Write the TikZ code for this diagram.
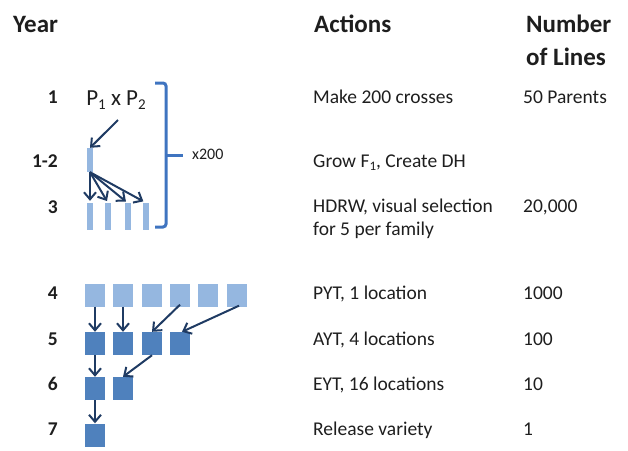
\documentclass[tikz,border=0pt]{standalone}
\usepackage{fontspec}
\setmainfont{Carlito}
\usetikzlibrary{arrows.meta}
\definecolor{lightb}{HTML}{95B7E0}
\definecolor{darkb}{HTML}{4F81BD}
\definecolor{arr}{HTML}{1F3B63}
\definecolor{bracec}{HTML}{3F74C0}
\definecolor{txt}{HTML}{1E1E1E}
\begin{document}
\begin{tikzpicture}[x=1pt,y=-1pt,
 sq/.style={draw=none, minimum width=20pt, minimum height=23pt, inner sep=0pt},
 lsq/.style={sq, fill=lightb},
 dsq/.style={sq, fill=darkb},
 bar/.style={fill=lightb, minimum width=6pt, inner sep=0pt},
 arw/.style={draw=arr, line width=2pt, -{Straight Barb[length=7pt,width=12pt,line width=2pt]}},
 hdr/.style={font=\fontsize{25}{33}\selectfont\bfseries, anchor=base west, inner sep=0pt, text=txt},
 body/.style={font=\fontsize{19.5}{23}\selectfont, anchor=base west, inner sep=0pt, text=txt},
 yr/.style={font=\fontsize{19.5}{23}\selectfont\bfseries, anchor=base east, inner sep=0pt, text=txt},
]
\useasboundingbox (0,0) rectangle (628,450);
% headers
\node[hdr] (hy) at (13,32) {Year};
\node[hdr] (ha) at (314,32) {Actions};
\node[hdr] (hn) at (526,32) {Number};
\node[hdr] (hl) at (526,65) {of Lines};
% years
\node[yr] (y1) at (58,103) {1};
\node[yr] (y12) at (58,167) {1-2};
\node[yr] (y3) at (58,213) {3};
\node[yr] (y4) at (58,299) {4};
\node[yr] (y5) at (58,345) {5};
\node[yr] (y6) at (58,390) {6};
\node[yr] (y7) at (58,435) {7};
% actions
\node[body] (a1) at (313,103) {Make 200 crosses};
\node[body] (a12) at (313,167) {Grow F\raisebox{-3pt}{\fontsize{13}{13}\selectfont 1}, Create DH};
\node[body] (a3) at (313,212) {HDRW, visual selection};
\node[body] (a3b) at (313,235) {for 5 per family};
\node[body] (a4) at (313,299) {PYT, 1 location};
\node[body] (a5) at (313,345) {AYT, 4 locations};
\node[body] (a6) at (313,390) {EYT, 16 locations};
\node[body] (a7) at (313,435) {Release variety};
% numbers
\node[body] (n1) at (523,103) {50 Parents};
\node[body] (n3) at (523,212) {20,000};
\node[body] (n4) at (523,299) {1000};
\node[body] (n5) at (523,345) {100};
\node[body] (n6) at (523,390) {10};
\node[body] (n7) at (523,435) {1};
% crosses
\node[font=\fontsize{23}{26}\selectfont, text=txt, inner sep=0pt] (p) at (116,100)
 {P\raisebox{-4pt}{\fontsize{15}{15}\selectfont 1} x P\raisebox{-4pt}{\fontsize{15}{15}\selectfont 2}};
\coordinate (pa) at (118,120);
\node[bar, minimum height=24pt] (b0) at (90,160) {};
\node[bar, minimum height=27pt] (b1) at (90,216.5) {};
\node[bar, minimum height=27pt] (b2) at (108,216.5) {};
\node[bar, minimum height=27pt] (b3) at (127.5,216.5) {};
\node[bar, minimum height=27pt] (b4) at (146,216.5) {};
\draw[arw] (pa) -- (b0.north);
\draw[arw, shorten >=2pt] (b0.south) -- (b1.north);
\draw[arw, shorten >=2pt] (b0.south) -- (b2.north);
\draw[arw, shorten >=2pt] (b0.south) -- (b3.north);
\draw[arw, shorten >=3pt] (b0.south) -- (b4.north);
% brace
\draw[draw=bracec, line width=3pt, rounded corners=3pt] (155,83) -- (166,83) -- (166,227) -- (155,227);
\draw[draw=bracec, line width=3pt] (166,155) -- (183,155);
\node[font=\fontsize{16}{18}\selectfont, text=txt, anchor=west, inner sep=0pt] (x200) at (192,154) {x200};
% trials
\foreach \i/\x in {1/95,2/123,3/152,4/180,5/208,6/237} {\node[lsq] (r4c\i) at (\x,295) {};}
\foreach \i/\x in {1/95,2/123,3/152,4/180} {\node[dsq] (r5c\i) at (\x,343.5) {};}
\foreach \i/\x in {1/95,2/123} {\node[dsq] (r6c\i) at (\x,388.5) {};}
\node[dsq] (r7c1) at (95,435) {};
\draw[arw] (r4c1.south) -- (r5c1.north);
\draw[arw] (r4c2.south) -- (r5c2.north);
\draw[arw] ([yshift=2pt]r4c4.south) -- (r5c3.north);
\draw[arw] ([xshift=2pt,yshift=1pt]r4c6.south) -- ([xshift=2pt]r5c4.north);
\draw[arw] (r5c3.south) -- (r6c2.north);
\draw[arw] (r5c1.south) -- (r6c1.north);
\draw[arw] (r6c1.south) -- (r7c1.north);
\end{tikzpicture}
\end{document}
